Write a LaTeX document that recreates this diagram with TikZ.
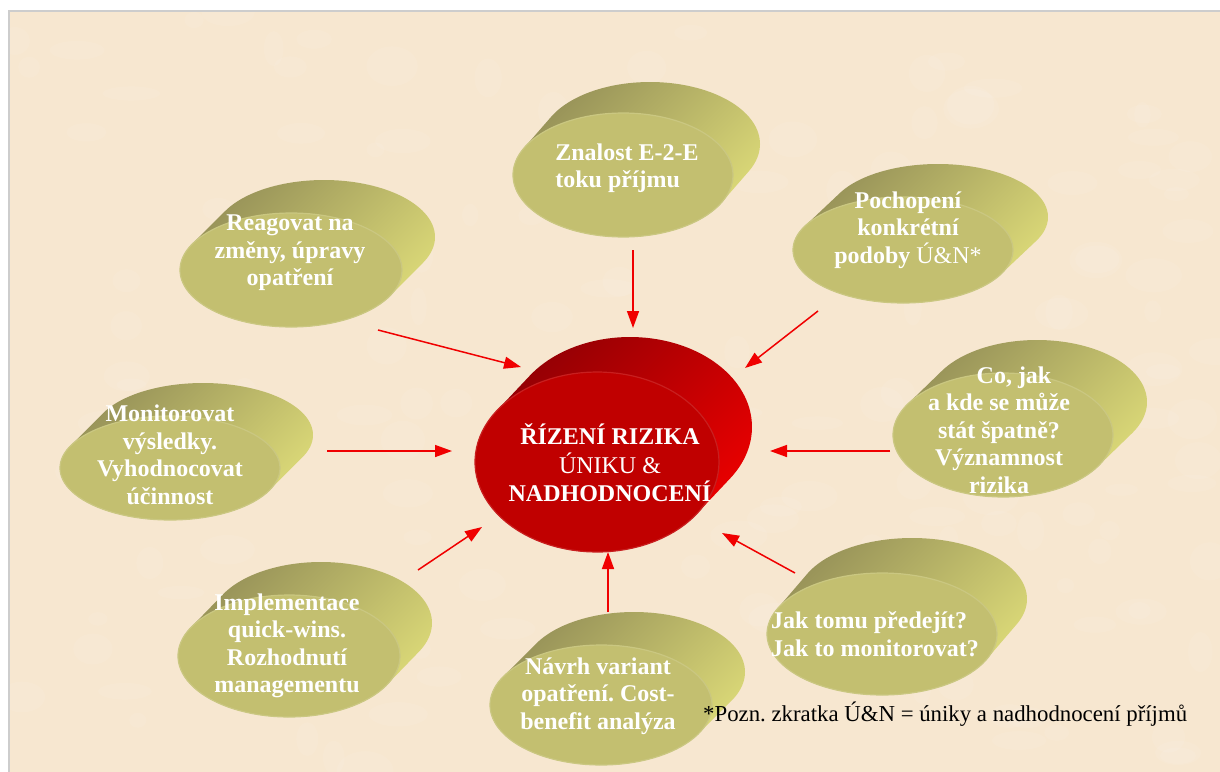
\documentclass[tikz,border=0pt]{standalone}
\usepackage{fontspec}
\setmainfont{Liberation Serif}
\usetikzlibrary{arrows.meta}
\frenchspacing

\definecolor{paper}{RGB}{247,231,208}
\definecolor{framegray}{RGB}{205,205,205}
\definecolor{olivedark}{RGB}{150,145,88}
\definecolor{olivemid}{RGB}{180,176,100}
\definecolor{olivelight}{RGB}{220,218,120}
\definecolor{oliveface}{RGB}{195,191,112}
\definecolor{reddark}{RGB}{145,0,4}
\definecolor{redmid}{RGB}{185,0,0}
\definecolor{redlight}{RGB}{236,0,0}
\definecolor{redface}{RGB}{192,0,0}
\definecolor{arrowred}{RGB}{240,0,0}

% Extruded ellipse: #1,#2 centre of front face, #3,#4 radii,
% #5,#6 extrusion offset, #7/#8 side shading, #9 face colour
\newcommand\cylinder[9]{%
  \pgfmathsetmacro\cylt{atan(-(#4*(#5))/(#3*(#6)))}%
  \pgfmathsetmacro\cylA{\cylt-180}%
  \pgfmathsetmacro\cylB{\cylt+180}%
  \path[top color=#7, middle color=olivemid, bottom color=#8, shading angle=45]
    plot[domain=\cylA:\cylt, samples=70, variable=\ang]
      ({#1+#5+#3*cos(\ang)},{#2+#6+#4*sin(\ang)})
    -- plot[domain=\cylt:\cylB, samples=70, variable=\ang]
      ({#1+#3*cos(\ang)},{#2+#4*sin(\ang)})
    -- cycle;
  \filldraw[fill=#9, draw=#9!88!white, line width=1.2pt]
    plot[domain=0:360, samples=100, variable=\ang]
      ({#1+#3*cos(\ang)},{#2+#4*sin(\ang)}) -- cycle;
}

\tikzset{
  olivetext/.style={text=white, align=center, inner sep=0pt,
    font=\fontsize{24}{27.5}\selectfont\bfseries},
  centertext/.style={text=white, align=center, inner sep=0pt,
    font=\fontsize{24}{28.5}\selectfont\bfseries},
  redarrow/.style={draw=arrowred, line width=1.5pt,
    -{Triangle[length=17pt,width=12pt]}},
}

\begin{document}
\begin{tikzpicture}[x=1pt,y=-1pt]
\useasboundingbox (0,0) rectangle (1220,771);
\fill[white] (0,0) rectangle (1220,771);

% paper background with a faint mottled texture
\fill[paper] (9,11) rectangle (1222,773);
\begin{scope}
  \clip (9,11) rectangle (1222,773);
  \pgfmathsetseed{4711}
  \foreach \i in {1,...,160}{
    \pgfmathsetmacro\bx{10+1210*rnd}
    \pgfmathsetmacro\by{12+760*rnd}
    \pgfmathsetmacro\ra{8+22*rnd}
    \pgfmathsetmacro\rb{6+14*rnd}
    \fill[white, opacity=0.08] (\bx,\by) ellipse ({\ra} and {\rb});
  }
\end{scope}
\draw[framegray, line width=1.5pt] (9,773) -- (9,11) -- (1222,11);

% olive satellites
\cylinder{623}{175}{110}{62}{27}{-31}{olivedark}{olivelight}{oliveface}
\cylinder{903}{250}{110}{53}{35}{-33}{olivedark}{olivelight}{oliveface}
\cylinder{291}{270}{111}{57}{33}{-33}{olivedark}{olivelight}{oliveface}
\cylinder{1003}{435}{110}{62}{34}{-33}{olivedark}{olivelight}{oliveface}
\cylinder{170}{468}{110}{52}{33}{-33}{olivedark}{olivelight}{oliveface}
\cylinder{289}{656}{111}{61}{32}{-33}{olivedark}{olivelight}{oliveface}
\cylinder{601}{705}{111}{60}{33}{-33}{olivedark}{olivelight}{oliveface}
\cylinder{882}{634}{115}{61}{30}{-35}{olivedark}{olivelight}{oliveface}

% central red cylinder
\begin{scope}
  \colorlet{olivemid}{redmid}
  \cylinder{597}{462}{122}{90}{33}{-35}{reddark}{redlight}{redface}
\end{scope}

% labels
\node[olivetext, align=left] (znalost) at (627,168) {Znalost E-2-E\\toku příjmu};
\node[olivetext] (pochopeni) at (908,230) {Pochopení\\konkrétní\\podoby {\mdseries Ú\&N*}};
\node[olivetext] (reagovat) at (290,253) {Reagovat na\\změny, úpravy\\opatření};
\node[olivetext] (cojak) at (999,430) {\hspace*{30pt}Co, jak\\a kde se může\\stát špatně?\\Významnost\\rizika};
\node[olivetext] (monitor) at (170,455) {Monitorovat\\výsledky.\\Vyhodnocovat\\účinnost};
\node[olivetext] (implement) at (287,646) {Implementace\\quick-wins.\\Rozhodnutí\\managementu};
\node[olivetext] (navrh) at (598,696) {Návrh variant\\opatření. Cost-\\benefit analýza};
\node[olivetext, align=left, anchor=west] (jaktomu) at (771,634) {Jak tomu předejít?\\Jak to monitorovat?};
\node[centertext] (rizeni) at (610,463) {ŘÍZENÍ RIZIKA\\{\mdseries ÚNIKU \&}\\NADHODNOCENÍ};

\node[anchor=base west, inner sep=0pt, font=\fontsize{22.8}{26}\selectfont] (pozn)
  at (703,721) {*Pozn. zkratka Ú\&N = úniky a nadhodnocení příjmů};

% arrows pointing at the centre
\coordinate (a1s) at (633,250); \coordinate (a1e) at (633,328);
\coordinate (a2s) at (818,311); \coordinate (a2e) at (745,368);
\coordinate (a3s) at (890,451); \coordinate (a3e) at (770,451);
\coordinate (a4s) at (795,573); \coordinate (a4e) at (722,533);
\coordinate (a5s) at (608,612); \coordinate (a5e) at (608,552);
\coordinate (a6s) at (418,570); \coordinate (a6e) at (482,527);
\coordinate (a7s) at (327,451); \coordinate (a7e) at (452,451);
\coordinate (a8s) at (378,330); \coordinate (a8e) at (521,367);
\foreach \k in {1,...,8}{ \draw[redarrow] (a\k s) -- (a\k e); }
\end{tikzpicture}
\end{document}
